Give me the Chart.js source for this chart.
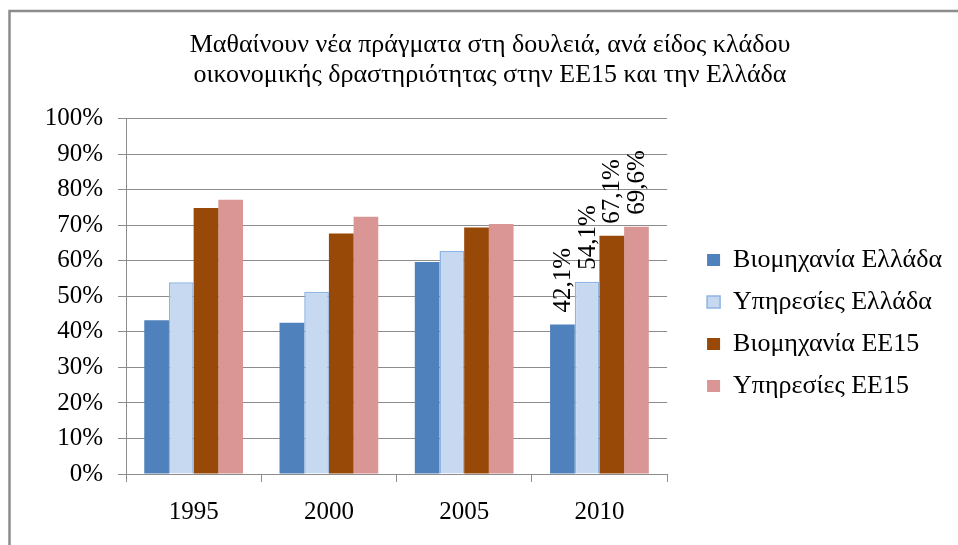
<!DOCTYPE html>
<html>
<head>
<meta charset="utf-8">
<script src="https://cdn.jsdelivr.net/npm/chart.js@4.4.0/dist/chart.umd.min.js"></script>
<style>
    html, body { margin: 0; padding: 0; background: #fff; }
    canvas { display: block; }
</style>
</head>
<body>
<canvas id="graph" width="958" height="545"></canvas>
<script>
// Données (en %)
const annees = ['1995', '2000', '2005', '2010'];
const industrieGrece = [43.3, 42.6, 59.7, 42.1];
const servicesGrece = [54.0, 51.3, 62.8, 54.1];
const industrieEE15 = [74.9, 67.7, 69.4, 67.1];
const servicesEE15 = [77.2, 72.4, 70.4, 69.6];
const titre = [
    'Μαθαίνουν νέα πράγματα στη δουλειά, ανά είδος κλάδου',
    'οικονομικής δραστηριότητας στην ΕΕ15 και την Ελλάδα'
];
// seules les barres de 2010 portent une étiquette
const indexEtiquette = 3;

const police = '"Liberation Serif", "DejaVu Serif", serif';
const gris = '#8c8c8c';

// Cadre gris (haut et gauche seulement, comme l'image source)
const cadre = {
    id: 'cadre',
    beforeDraw(chart) {
        const ctx = chart.ctx;
        ctx.save();
        ctx.fillStyle = '#fff';
        ctx.fillRect(0, 0, chart.width, chart.height);
        ctx.strokeStyle = gris;
        ctx.lineWidth = 2.5;
        ctx.strokeRect(9.5, 11, chart.width + 20, chart.height + 20);
        ctx.restore();
    }
};

// Étiquettes verticales au-dessus des barres de 2010
const etiquettes = {
    id: 'etiquettes',
    afterDatasetsDraw(chart) {
        const ctx = chart.ctx;
        ctx.save();
        ctx.font = '25px ' + police;
        ctx.fillStyle = '#000';
        ctx.textAlign = 'left';
        ctx.textBaseline = 'middle';
        chart.data.datasets.forEach((ds, i) => {
            const barre = chart.getDatasetMeta(i).data[indexEtiquette];
            if (!barre) return;
            const texte = ds.data[indexEtiquette].toFixed(1).replace('.', ',') + '%';
            ctx.save();
            ctx.translate(barre.x, barre.y - 12);
            ctx.rotate(-Math.PI / 2);
            ctx.fillText(texte, 0, 1);
            ctx.restore();
        });
        ctx.restore();
    }
};

new Chart(document.getElementById('graph'), {
    type: 'bar',
    data: {
        labels: annees,
        datasets: [
            { label: 'Βιομηχανία Ελλάδα', data: industrieGrece, backgroundColor: '#4f81bd' },
            { label: 'Υπηρεσίες Ελλάδα', data: servicesGrece, backgroundColor: '#c6d9f1', borderColor: '#8eb4e3', borderWidth: 1.5 },
            { label: 'Βιομηχανία ΕΕ15', data: industrieEE15, backgroundColor: '#984807' },
            { label: 'Υπηρεσίες ΕΕ15', data: servicesEE15, backgroundColor: '#d99694' }
        ]
    },
    options: {
        responsive: false,
        animation: false,
        devicePixelRatio: 1,
        datasets: { bar: { categoryPercentage: 0.73, barPercentage: 1.0 } },
        layout: { padding: { left: 28, right: 6, top: 0, bottom: 0 } },
        plugins: {
            title: {
                display: true,
                text: titre,
                color: '#000',
                font: { family: police, size: 26, weight: 'normal', lineHeight: 1.15 },
                padding: { top: 30, bottom: 29 }
            },
            legend: {
                position: 'right',
                align: 'center',
                fullSize: false,
                maxWidth: 320,
                // titre vide : sert juste à descendre la légende
                title: { display: true, text: ' ', font: { size: 10, lineHeight: 1 }, padding: { top: 43, bottom: 0 } },
                labels: {
                    color: '#000',
                    font: { family: police, size: 26 },
                    boxWidth: 13,
                    boxHeight: 12,
                    padding: 16
                }
            },
            tooltip: { enabled: false }
        },
        scales: {
            x: {
                grid: { offset: true, drawOnChartArea: false, color: gris, tickLength: 8 },
                border: { color: gris },
                ticks: { color: '#000', font: { family: police, size: 25 }, padding: 15 },
                afterFit(scale) { scale.height = 71; }
            },
            y: {
                min: 0,
                max: 100,
                ticks: {
                    stepSize: 10,
                    color: '#000',
                    font: { family: police, size: 25 },
                    padding: 15,
                    callback: v => v + '%'
                },
                grid: { color: gris, tickLength: 8 },
                border: { color: gris },
                afterFit(scale) { scale.width = 126 - 28; }
            },
            // axe vide à droite : simple espace entre le graphique et la légende
            espace: {
                type: 'linear',
                position: 'right',
                display: true,
                grid: { display: false, drawTicks: false },
                border: { display: false },
                ticks: { display: false },
                afterFit(scale) { scale.width = 24; }
            }
        }
    },
    plugins: [cadre, etiquettes]
});
</script>
</body>
</html>
